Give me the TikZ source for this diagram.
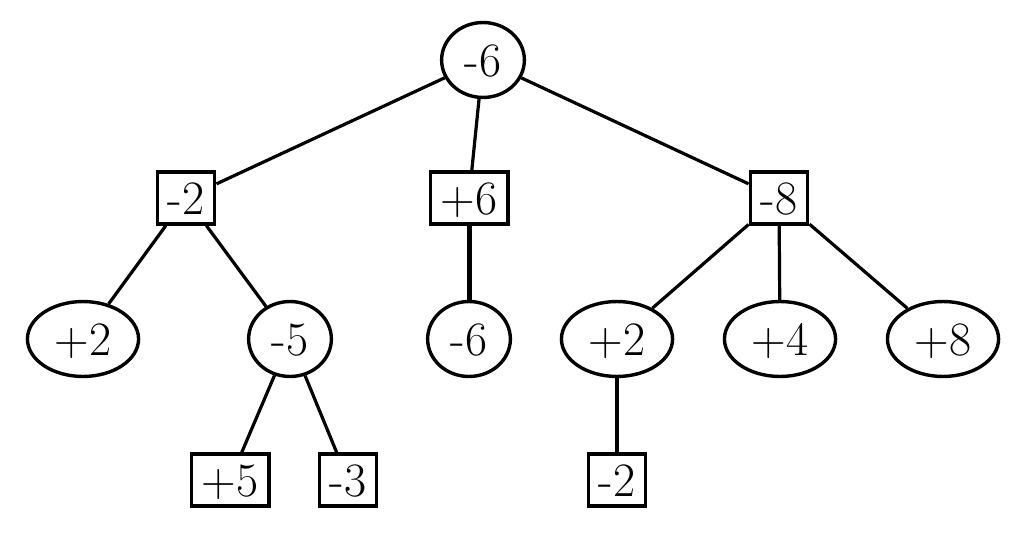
\documentclass[tikz,border=0pt]{standalone}
\usetikzlibrary{shapes.geometric}
\begin{document}
\begin{tikzpicture}[x=1pt,y=1pt,
  every node/.style={font=\fontsize{48}{56}\selectfont, text height=33pt, text depth=0pt},
  oval/.style={ellipse, draw, line width=3.4pt, inner xsep=11pt, inner ysep=10pt},
  sqbox/.style={rectangle, draw, line width=3.4pt, inner xsep=10.5pt, inner ysep=9.5pt},
  edge/.style={line width=3.2pt},
  thickedge/.style={line width=5pt}]
\useasboundingbox (0,0) rectangle (1024,544);
\node[oval]  (r) at (483,484) {-6};
\node[sqbox] (a) at (186,346) {-2};
\node[sqbox] (b) at (469,346) {+6};
\node[sqbox] (c) at (779,346) {-8};
\node[oval]  (d) at (83,205) {+2};
\node[oval]  (e) at (290,205) {-5};
\node[oval]  (f) at (469,205) {-6};
\node[oval]  (g) at (617,205) {+2};
\node[oval]  (h) at (780,205) {+4};
\node[oval]  (i) at (943,205) {+8};
\node[sqbox] (j) at (230,64) {+5};
\node[sqbox] (k) at (348,64) {-3};
\node[sqbox] (l) at (617,64) {-2};
\draw[edge] (r) -- (a);
\draw[edge] (r) -- (b);
\draw[edge] (r) -- (c);
\draw[edge] (a) -- (d);
\draw[edge] (a) -- (e);
\draw[thickedge] (b) -- (f);
\draw[edge] (c) -- (g);
\draw[edge] (c) -- (h);
\draw[edge] (c) -- (i);
\draw[edge] (e) -- (j);
\draw[edge] (e) -- (k);
\draw[edge] (g) -- (l);
\end{tikzpicture}
\end{document}
